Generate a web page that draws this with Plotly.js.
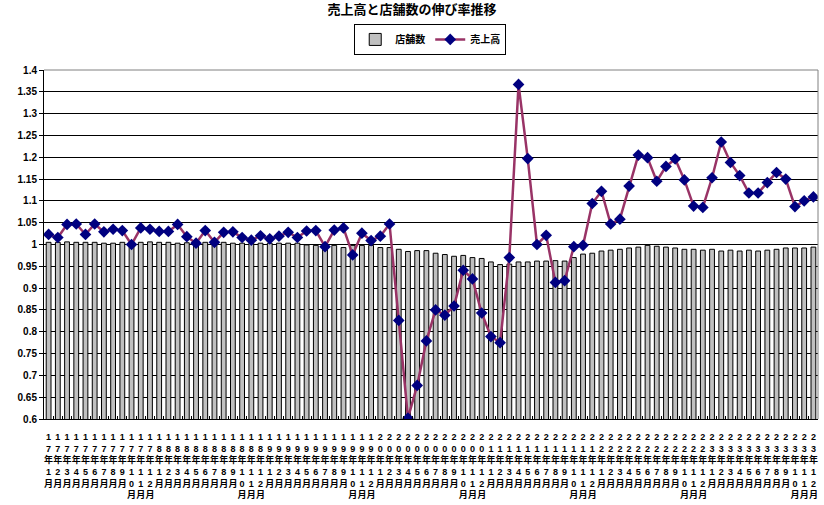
<!DOCTYPE html>
<html><head><meta charset="utf-8">
<script src="https://cdn.plot.ly/plotly-3.0.1.min.js"></script>
<style>html,body{margin:0;padding:0;background:#fff}#chart{width:824px;height:505px}</style>
</head><body><div id="chart"></div>
<script>
const categories = [
"17年1月","17年2月","17年3月","17年4月","17年5月","17年6月","17年7月","17年8月","17年9月","17年10月","17年11月","17年12月",
"18年1月","18年2月","18年3月","18年4月","18年5月","18年6月","18年7月","18年8月","18年9月","18年10月","18年11月","18年12月",
"19年1月","19年2月","19年3月","19年4月","19年5月","19年6月","19年7月","19年8月","19年9月","19年10月","19年11月","19年12月",
"20年1月","20年2月","20年3月","20年4月","20年5月","20年6月","20年7月","20年8月","20年9月","20年10月","20年11月","20年12月",
"21年1月","21年2月","21年3月","21年4月","21年5月","21年6月","21年7月","21年8月","21年9月","21年10月","21年11月","21年12月",
"22年1月","22年2月","22年3月","22年4月","22年5月","22年6月","22年7月","22年8月","22年9月","22年10月","22年11月","22年12月",
"23年1月","23年2月","23年3月","23年4月","23年5月","23年6月","23年7月","23年8月","23年9月","23年10月","23年11月","23年12月"
];
const stores = [
1.005,1.005,1.006,1.005,1.005,1.005,1.003,1.003,1.005,1.005,1.005,1.006,
1.005,1.005,1.003,1.004,1.004,1.005,1.005,1.005,1.003,1.003,1.003,1.003,
1.003,1.003,1.003,1.003,0.999,0.998,0.998,0.998,0.993,0.998,0.998,0.998,
0.993,0.993,0.989,0.984,0.986,0.986,0.980,0.977,0.973,0.975,0.970,0.968,
0.960,0.954,0.955,0.960,0.960,0.962,0.962,0.963,0.962,0.970,0.978,0.980,
0.985,0.987,0.989,0.992,0.994,0.998,0.996,0.994,0.992,0.989,0.989,0.987,
0.989,0.985,0.987,0.985,0.987,0.985,0.987,0.989,0.992,0.992,0.992,0.994
];
const sales = [
1.023,1.016,1.046,1.047,1.023,1.047,1.029,1.035,1.032,1.000,1.038,1.035,
1.030,1.030,1.046,1.018,1.003,1.032,1.005,1.028,1.029,1.016,1.010,1.020,
1.013,1.019,1.028,1.016,1.031,1.032,0.995,1.033,1.038,0.976,1.026,1.009,
1.019,1.047,0.826,0.602,0.677,0.779,0.850,0.838,0.859,0.941,0.921,0.843,
0.789,0.775,0.970,1.367,1.197,1.000,1.021,0.913,0.917,0.995,0.998,1.094,
1.122,1.047,1.058,1.134,1.205,1.199,1.145,1.179,1.196,1.148,1.088,1.085,
1.153,1.235,1.188,1.158,1.118,1.118,1.142,1.165,1.150,1.087,1.100,1.109
];
const yTickVals = [0.6,0.65,0.7,0.75,0.8,0.85,0.9,0.95,1,1.05,1.1,1.15,1.2,1.25,1.3,1.35,1.4];
const yTickText = ["0.6","0.65","0.7","0.75","0.8","0.85","0.9","0.95","1","1.05","1.1","1.15","1.2","1.25","1.3","1.35","1.4"];
const xTickText = categories.map(c => Array.from(c).join("<br>"));

const FONT = "Liberation Sans, Arial, Noto Sans CJK JP, sans-serif";
const traces = [
  {type:"bar", name:"店舗数", x:categories, y:stores,
   marker:{color:"#c0c0c0", line:{color:"#000", width:1}}},
  {type:"scatter", mode:"lines+markers", name:"売上高", x:categories, y:sales,
   line:{color:"#993366", width:2.5},
   marker:{symbol:"diamond", color:"#000080", size:9, line:{width:0}}}
];
const layout = {
  width:824, height:505,
  margin:{l:44, r:6, t:70, b:86},
  paper_bgcolor:"#fff", plot_bgcolor:"#fff",
  bargap:0.48,
  showlegend:true,
  title:{text:"売上高と店舗数の伸び率推移", x:0.5, xanchor:"center", y:0.991, yanchor:"top",
         font:{family:FONT, size:13, color:"#000", weight:"bold"}},
  legend:{orientation:"h", x:0.499, xanchor:"center", y:1.132, yanchor:"top",
          bordercolor:"#000", borderwidth:1, bgcolor:"#fff",
          font:{family:FONT, size:10, color:"#000", weight:"bold"},
          itemwidth:30, tracegroupgap:0},
  xaxis:{type:"category", tickmode:"array", tickvals:categories, ticktext:xTickText,
         tickangle:0, tickfont:{family:FONT, size:9, color:"#000", weight:"bold"},
         ticklabelstandoff:9,
         showgrid:false, showline:true, linecolor:"#000", linewidth:1,
         ticks:"inside", tickson:"boundaries", ticklen:3, tickcolor:"#000",
         range:[-0.5, 83.5], fixedrange:true},
  yaxis:{range:[0.6,1.4], tickmode:"array", tickvals:yTickVals, ticktext:yTickText,
         tickfont:{family:FONT, size:10, color:"#000", weight:"bold"},
         showgrid:true, gridcolor:"#000", gridwidth:1,
         showline:true, linecolor:"#000", linewidth:1,
         ticks:"outside", ticklen:4, tickcolor:"#000", zeroline:false, fixedrange:true},
  shapes:[
    {type:"line", xref:"paper", yref:"paper", x0:0, x1:1, y0:1, y1:1, line:{color:"#808080", width:1}},
    {type:"line", xref:"paper", yref:"paper", x0:1, x1:1, y0:0, y1:1, line:{color:"#808080", width:1}}
  ]
};
Plotly.newPlot("chart", traces, layout, {displayModeBar:false, staticPlot:true});
</script></body></html>
